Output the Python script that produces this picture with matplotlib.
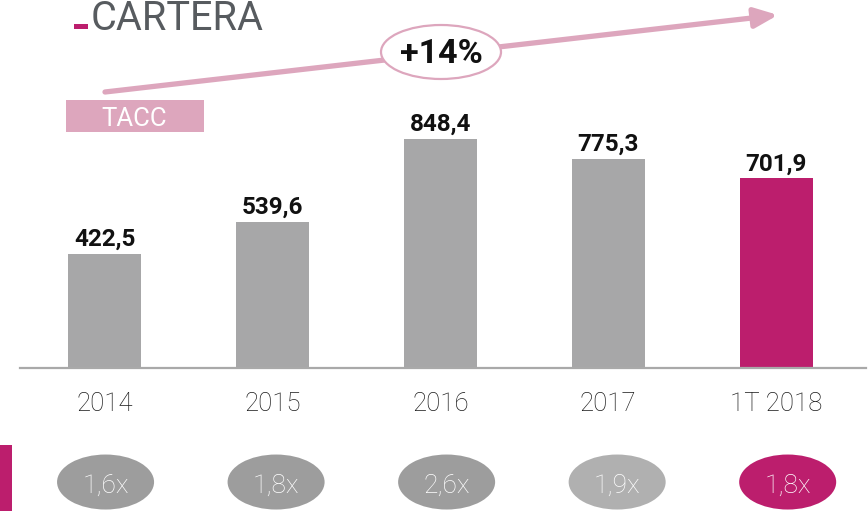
import matplotlib.pyplot as plt
from matplotlib.patches import Ellipse, Rectangle, FancyArrowPatch

years = ['2014', '2015', '2016', '2017', '1T 2018']
cartera = [422.5, 539.6, 848.4, 775.3, 701.9]
cartera_labels = ['422,5', '539,6', '848,4', '775,3', '701,9']
ratios = ['1,6x', '1,8x', '2,6x', '1,9x', '1,8x']
tacc = '+14%'

GREY = '#a7a7a8'
MAGENTA = '#bc1e6d'
PINK = '#dda6bd'
TITLE_GREY = '#575b5f'
ROBOTO = ['Roboto', 'DejaVu Sans']

W, H = 868, 511


def fx(px):
    return px / W


def fy(py):
    return 1 - py / H


fig = plt.figure(figsize=(W / 100, H / 100), dpi=100)

# main bars
ax = fig.add_axes([fx(20), fy(368), (866 - 20) / W, 368 / H])
pos = list(range(len(years)))
bar_colors = [GREY] * (len(years) - 1) + [MAGENTA]
ax.bar(pos, cartera, width=0.435, color=bar_colors, zorder=2)
ax.set_xlim(-0.506, 4.536)
ax.set_ylim(0, 1363)
for s in ['top', 'right', 'left']:
    ax.spines[s].set_visible(False)
ax.spines['bottom'].set_color('#a9a9a9')
ax.spines['bottom'].set_linewidth(1.6)
ax.set_yticks([])
ax.set_xticks(pos, years)
for lab in ax.get_xticklabels():
    lab.set_family(ROBOTO)
    lab.set_fontweight('light')
    lab.set_fontsize(18.5)
    lab.set_color('#1a1a1a')
ax.tick_params(axis='x', length=0, pad=17)
ax.patch.set_alpha(0)

for i, v in enumerate(cartera):
    ax.text(i, v + 30, cartera_labels[i], ha='center', va='baseline',
            family=ROBOTO, fontweight='bold', fontsize=17.5, color='#111111')

# title
fig.add_artist(Rectangle((fx(74), fy(29)), 14 / W, 5 / H, transform=fig.transFigure,
                         facecolor=MAGENTA, edgecolor='none'))
fig.text(fx(91), fy(30), 'CARTERA', ha='left', va='baseline', family=ROBOTO,
         fontsize=28.5, color=TITLE_GREY)

# growth arrow
arrow = FancyArrowPatch((fx(105), fy(92)), (fx(778), fy(15)), transform=fig.transFigure,
                        arrowstyle='-|>,head_length=1.4,head_width=0.6', mutation_scale=10,
                        color=PINK, lw=3.8, shrinkA=0, shrinkB=0)
fig.add_artist(arrow)
fig.add_artist(Ellipse((fx(441), fy(52)), 120 / W, 54 / H, transform=fig.transFigure,
                       facecolor='white', edgecolor=PINK, lw=1.6, zorder=3))
fig.text(fx(441), fy(63), tacc, ha='center', va='baseline', family=ROBOTO,
         fontweight='bold', fontsize=24.5, color='#111111', zorder=4)

# TACC box
fig.add_artist(Rectangle((fx(66), fy(132)), 138 / W, 32 / H, transform=fig.transFigure,
                         facecolor=PINK, edgecolor='none'))
fig.text(fx(134), fy(126), 'TACC', ha='center', va='baseline', family=ROBOTO,
         fontsize=18.5, color='white')

# bottom row of ratios
bx = fig.add_axes([0, 0, 1, 71 / H])
bx.set_xlim(-0.619, 4.471)
bx.set_ylim(0, 1)
bx.axis('off')
ell_colors = ['#9d9d9d', '#9d9d9d', '#9d9d9d', '#b0b0b0', MAGENTA]
for i, r in enumerate(ratios):
    bx.add_patch(Ellipse((i, 0.408), 97 / 170.5, 55 / 71, facecolor=ell_colors[i],
                         edgecolor='none'))
    bx.text(i, 0.254, r, ha='center', va='baseline', family=ROBOTO,
            fontweight='light', fontsize=19, color='white')
fig.add_artist(Rectangle((0, 0), 12 / W, 66 / H, transform=fig.transFigure,
                         facecolor=MAGENTA, edgecolor='none'))

fig.savefig('out.png', dpi=100)
